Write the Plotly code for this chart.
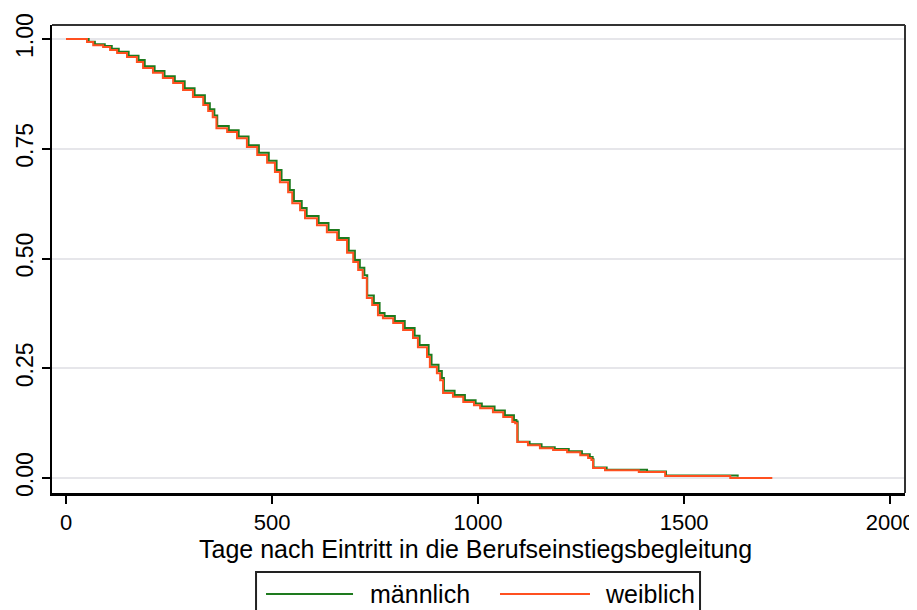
import plotly.graph_objects as go

# Kaplan-Meier Schaetzer, Tage nach Eintritt
tage_m = [0, 55, 70, 94, 111, 128, 152, 176, 191, 215, 239, 264, 288, 312, 337, 349, 360, 367,
          395, 419, 443, 468, 492, 511, 523, 543, 553, 572, 584, 613, 637, 662, 686, 701, 713,
          724, 731, 747, 761, 773, 798, 822, 846, 858, 880, 887, 904, 912, 917, 943, 968, 994,
          1009, 1040, 1065, 1087, 1093, 1096, 1125, 1154, 1186, 1220, 1252, 1271, 1278, 1280,
          1312, 1410, 1456, 1630]
surv_m = [1.000, 0.994, 0.988, 0.984, 0.978, 0.971, 0.962, 0.952, 0.938, 0.927, 0.915, 0.904,
          0.888, 0.872, 0.854, 0.840, 0.826, 0.802, 0.792, 0.778, 0.758, 0.741, 0.723, 0.702,
          0.679, 0.656, 0.631, 0.615, 0.597, 0.581, 0.565, 0.547, 0.518, 0.497, 0.479, 0.462,
          0.416, 0.399, 0.376, 0.369, 0.358, 0.342, 0.324, 0.303, 0.281, 0.258, 0.244, 0.228,
          0.199, 0.189, 0.177, 0.170, 0.163, 0.154, 0.143, 0.132, 0.129, 0.083, 0.077, 0.070,
          0.066, 0.061, 0.054, 0.048, 0.043, 0.024, 0.019, 0.015, 0.006, 0.003]

tage_w = [0, 51, 66, 90, 107, 124, 148, 172, 187, 211, 235, 260, 284, 308, 333, 345, 356, 365,
          391, 415, 439, 464, 488, 507, 519, 539, 549, 568, 580, 609, 633, 658, 682, 697, 709,
          720, 730, 743, 757, 769, 794, 818, 842, 854, 876, 883, 900, 908, 915, 939, 964, 990,
          1005, 1036, 1061, 1083, 1090, 1095, 1121, 1150, 1182, 1216, 1248, 1267, 1275, 1279,
          1308, 1390, 1454, 1612, 1714]
surv_w = [1.000, 0.993, 0.986, 0.982, 0.975, 0.968, 0.959, 0.948, 0.934, 0.923, 0.911, 0.900,
          0.884, 0.868, 0.850, 0.836, 0.822, 0.797, 0.788, 0.774, 0.754, 0.736, 0.718, 0.697,
          0.674, 0.651, 0.626, 0.610, 0.592, 0.576, 0.560, 0.542, 0.513, 0.492, 0.474, 0.456,
          0.410, 0.394, 0.371, 0.364, 0.353, 0.337, 0.319, 0.298, 0.276, 0.253, 0.239, 0.223,
          0.194, 0.185, 0.173, 0.166, 0.159, 0.150, 0.139, 0.128, 0.125, 0.082, 0.075, 0.068,
          0.064, 0.059, 0.052, 0.046, 0.041, 0.023, 0.018, 0.014, 0.005, 0.000, 0.000]

x_ticks = [0, 500, 1000, 1500, 2000]
y_ticks = [0, 0.25, 0.5, 0.75, 1.0]
gruppen = ["männlich", "weiblich"]
farben = ["#1e7a1e", "#ff5020"]
x_titel = "Tage nach Eintritt in die Berufseinstiegsbegleitung"

FONT = "Liberation Sans, Arial, sans-serif"

fig = go.Figure()
fig.add_trace(go.Scatter(x=tage_m, y=surv_m, mode="lines", line_shape="hv",
                         line=dict(color=farben[0], width=2), name=gruppen[0]))
fig.add_trace(go.Scatter(x=tage_w, y=surv_w, mode="lines", line_shape="hv",
                         line=dict(color=farben[1], width=2), name=gruppen[1]))

# page body has an 8px margin, so the figure is 8px smaller than the window
fig.update_layout(
    width=909, height=602,
    margin=dict(l=44, r=12, t=17, b=117),
    paper_bgcolor="white", plot_bgcolor="white",
    showlegend=False,
    font=dict(family=FONT, color="black", size=22),
)
fig.update_xaxes(
    range=[-34, 2036], tickvals=x_ticks, ticks="outside", ticklen=8, tickwidth=1.5,
    tickcolor="black", showline=True, linecolor="black", linewidth=3,
    showgrid=False, zeroline=False, tickfont=dict(size=22), automargin=False,
)
fig.update_yaxes(
    range=[-0.034, 1.032], tickvals=y_ticks, tickformat=".2f", tickangle=-90,
    ticks="outside", ticklen=8, tickwidth=1.5, tickcolor="black",
    showline=True, linecolor="black", linewidth=2, automargin=False,
    showgrid=True, gridcolor="#e6e6ea", gridwidth=1.5, zeroline=False,
    tickfont=dict(size=23),
)

# x axis title placed directly under the tick labels
fig.add_annotation(text=x_titel, xref="paper", yref="paper", x=0.4965, y=-0.1197,
                   xanchor="center", yanchor="middle", showarrow=False,
                   font=dict(size=25, color="black"))

# top / right frame
fig.add_shape(type="line", xref="paper", yref="paper", x0=0, x1=1, y0=1, y1=1,
              line=dict(color="#333333", width=2))
fig.add_shape(type="line", xref="paper", yref="paper", x0=1, x1=1, y0=0, y1=1,
              line=dict(color="#333333", width=2))

# Stata-style legend box below the plot
fig.add_shape(type="rect", xref="paper", yref="paper", x0=0.2392, x1=0.7597,
              y0=-0.26, y1=-0.1688, line=dict(color="#222222", width=2))
leg_y = -0.2158
for name, col, x0, x1, xt in [(gruppen[0], farben[0], 0.2509, 0.3529, 0.3705),
                              (gruppen[1], farben[1], 0.5252, 0.6307, 0.6455)]:
    fig.add_shape(type="line", xref="paper", yref="paper", x0=x0, x1=x1, y0=leg_y, y1=leg_y,
                  line=dict(color=col, width=2))
    fig.add_annotation(text=name, xref="paper", yref="paper", x=xt, y=leg_y,
                       xanchor="left", yanchor="middle", showarrow=False,
                       font=dict(size=25, color="black"))

fig.write_html("out.html")
